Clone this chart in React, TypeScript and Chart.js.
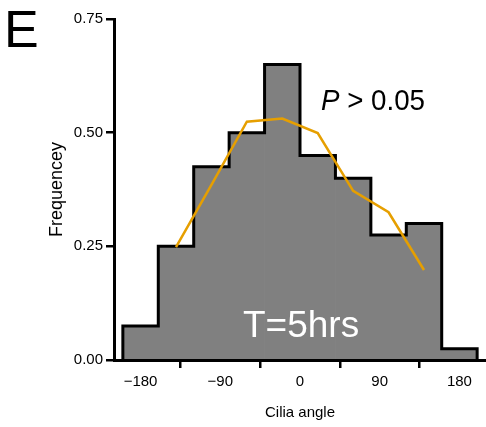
import React, { useEffect, useRef } from "react";
import { Chart, registerables } from "chart.js";

Chart.register(...registerables);

// ---- data ----
const binCenters = [-180, -140, -100, -60, -20, 20, 60, 100, 140, 180];
const binWidth = 40;
const frequencies = [0.075, 0.25, 0.425, 0.5, 0.65, 0.45, 0.4, 0.275, 0.3, 0.025];
const curveAngles = [-140, -100, -60, -20, 20, 60, 100, 140];
const curveValues = [0.248, 0.385, 0.524, 0.531, 0.499, 0.372, 0.325, 0.198];
const xTicks = [-180, -90, 0, 90, 180];
const yTicks = [0, 0.25, 0.5, 0.75];
const xLabel = "Cilia angle";
const yLabel = "Frequencey";
const panelLabel = "E";
const pLabel = "0.05";
const timeLabel = "T=5hrs";

const FONT = "'Liberation Sans', Arial, sans-serif";

function buildOutline() {
  const pts: { x: number; y: number }[] = [];
  const half = binWidth / 2;
  pts.push({ x: binCenters[0] - half, y: 0 });
  binCenters.forEach((c, i) => pts.push({ x: c - half, y: frequencies[i] }));
  const last = binCenters.length - 1;
  pts.push({ x: binCenters[last] + half, y: frequencies[last] });
  pts.push({ x: binCenters[last] + half, y: 0 });
  return pts;
}

const annotationPlugin = {
  id: "annotations",
  afterDraw(chart: any) {
    const ctx = chart.ctx;
    ctx.save();
    ctx.textBaseline = "alphabetic";
    ctx.textAlign = "left";
    // panel label
    ctx.fillStyle = "#000";
    ctx.font = `52px ${FONT}`;
    ctx.fillText(panelLabel, 4, 47);
    // P > 0.05
    const italic = `italic 30px ${FONT}`;
    const regular = `30px ${FONT}`;
    ctx.font = italic;
    const wP = ctx.measureText("P").width;
    ctx.font = regular;
    const rest = " > " + pLabel;
    const wR = ctx.measureText(rest).width;
    const target = 104;
    const sx = target / (wP + wR);
    ctx.save();
    ctx.translate(321, 110);
    ctx.scale(sx, 1);
    ctx.font = italic;
    ctx.fillText("P", 0, 0);
    ctx.font = regular;
    ctx.fillText(rest, wP, 0);
    ctx.restore();
    // T=5hrs
    ctx.fillStyle = "#fff";
    ctx.font = `37px ${FONT}`;
    ctx.fillText(timeLabel, 243, 337);
    ctx.restore();
  },
};

export default function App() {
  const ref = useRef<HTMLCanvasElement | null>(null);

  useEffect(() => {
    document.body.style.margin = "0";
    const canvas = ref.current;
    if (!canvas) return;
    const chart = new Chart(canvas, {
      type: "bar",
      data: {
        datasets: [
          {
            type: "line",
            data: curveAngles.map((x, i) => ({ x, y: curveValues[i] })),
            borderColor: "#E69F00",
            borderWidth: 2.5,
            pointRadius: 0,
            fill: false,
            tension: 0,
            order: 0,
          } as any,
          {
            type: "line",
            data: buildOutline(),
            borderColor: "#000",
            borderWidth: 3,
            pointRadius: 0,
            fill: false,
            stepped: "before",
            borderJoinStyle: "miter",
            borderCapStyle: "butt",
            order: 1,
          } as any,
          {
            type: "bar",
            data: binCenters.map((x, i) => ({ x, y: frequencies[i] })),
            backgroundColor: "#808080",
            borderWidth: 0,
            barPercentage: 1,
            categoryPercentage: 1,
            order: 2,
          } as any,
        ],
      },
      options: {
        animation: false,
        responsive: false,
        maintainAspectRatio: false,
        layout: { padding: { top: 19, right: 0, bottom: 0, left: 0 } },
        plugins: { legend: { display: false }, tooltip: { enabled: false } },
        scales: {
          x: {
            type: "linear",
            min: -210,
            max: 210,
            offset: false,
            afterBuildTicks: (scale: any) => {
              scale.ticks = xTicks.map((v) => ({ value: v }));
            },
            afterFit: (scale: any) => {
              scale.height = 67;
            },
            ticks: {
              color: "#000",
              font: { family: FONT, size: 15 },
              padding: 5,
              maxRotation: 0,
              autoSkip: false,
              callback: (v: any) => (v < 0 ? "\u2212" + Math.abs(v) : String(v)),
            },
            grid: {
              display: true,
              drawOnChartArea: false,
              drawTicks: true,
              tickLength: 8,
              color: "#000",
              lineWidth: 2.5,
            },
            border: { display: true, color: "#000", width: 3 },
            title: {
              display: true,
              text: xLabel,
              color: "#000",
              font: { family: FONT, size: 15 },
              padding: { top: 0, bottom: 5 },
            },
          },
          y: {
            type: "linear",
            min: 0,
            max: 0.75,
            afterBuildTicks: (scale: any) => {
              scale.ticks = yTicks.map((v) => ({ value: v }));
            },
            afterFit: (scale: any) => {
              scale.width = 114;
            },
            ticks: {
              color: "#000",
              font: { family: FONT, size: 15 },
              padding: 3,
              autoSkip: false,
              callback: (v: any) => Number(v).toFixed(2),
            },
            grid: {
              display: true,
              drawOnChartArea: false,
              drawTicks: true,
              tickLength: 8,
              color: "#000",
              lineWidth: 2.5,
            },
            border: { display: true, color: "#000", width: 3 },
            title: {
              display: true,
              text: yLabel,
              color: "#000",
              font: { family: FONT, size: 18 },
              padding: { top: 46, bottom: 0 },
            },
          },
        },
      },
      plugins: [annotationPlugin],
    } as any);
    return () => chart.destroy();
  }, []);

  return (
    <div style={{ position: "fixed", left: 0, top: 0, width: 486, height: 427, background: "#fff" }}>
      <canvas ref={ref} width={486} height={427} style={{ width: 486, height: 427 }} />
    </div>
  );
}
